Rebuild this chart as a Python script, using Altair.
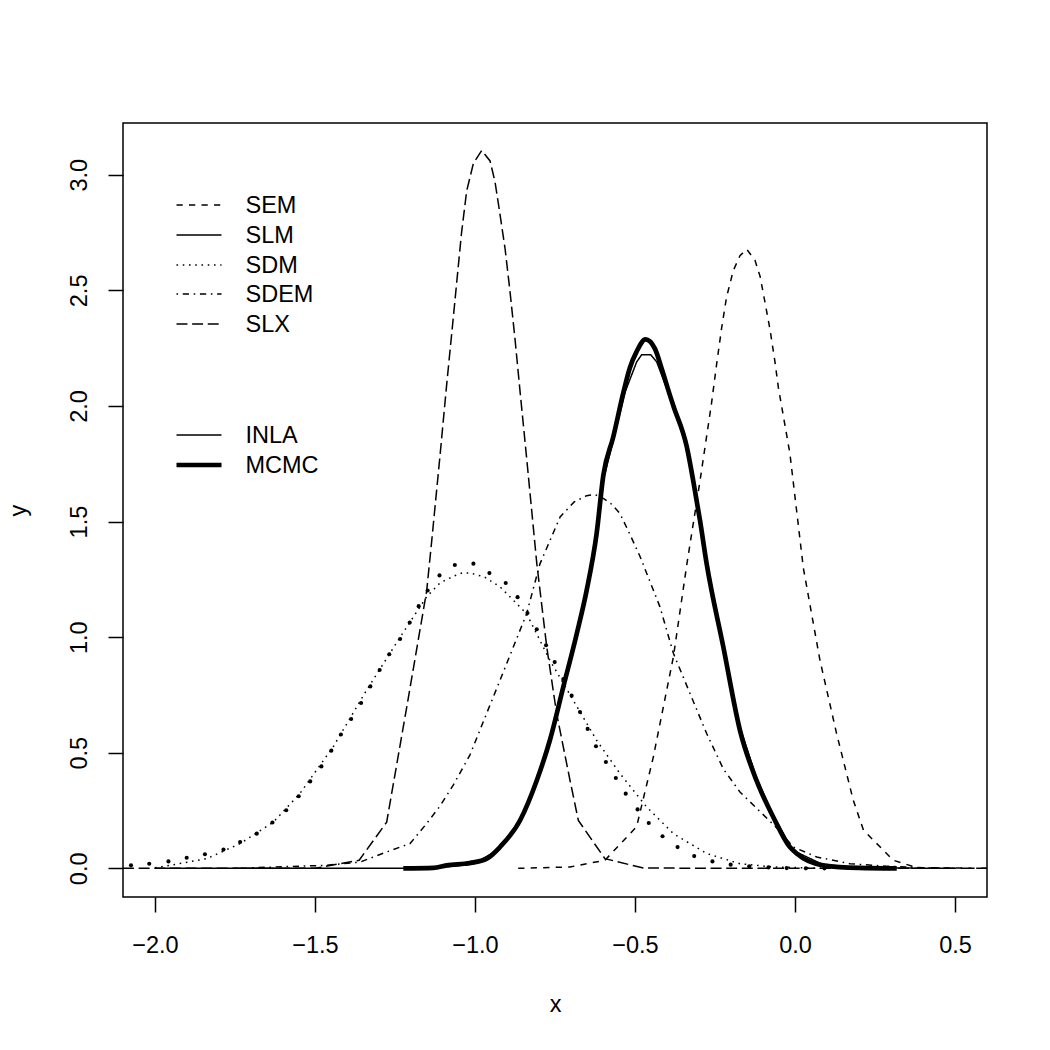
import altair as alt
import pandas as pd

# Posterior marginals of the spatial lag parameter, INLA (thin) vs MCMC (thick / dots)
sem_x = [-0.865, -0.703, -0.594, -0.495, -0.443, -0.38, -0.338, -0.297, -0.261, -0.245,
         -0.229, -0.214, -0.193, -0.172, -0.151, -0.125, -0.109, -0.094, -0.078, -0.0625,
         -0.052, -0.016, 0.026, 0.078, 0.130, 0.182, 0.214, 0.307, 0.38, 0.6]
sem_y = [0.0, 0.006, 0.035, 0.18, 0.48, 0.915, 1.315, 1.675, 2.01, 2.18,
         2.34, 2.47, 2.585, 2.65, 2.678, 2.63, 2.56, 2.45, 2.33, 2.19,
         2.08, 1.795, 1.30, 0.90, 0.583, 0.295, 0.165, 0.035, 0.003, 0.0]

slm_x = [-2.0, -1.2, -1.109, -1.005, -0.922, -0.859, -0.807, -0.766, -0.724, -0.682,
         -0.651, -0.620, -0.599, -0.568, -0.531, -0.495, -0.479, -0.451, -0.432, -0.380,
         -0.338, -0.297, -0.276, -0.224, -0.172, -0.120, -0.068, -0.016, 0.005, 0.088,
         0.2, 0.5]
slm_y = [0.0, 0.0, 0.004, 0.018, 0.085, 0.20, 0.37, 0.545, 0.776, 1.01,
         1.20, 1.45, 1.68, 1.85, 2.06, 2.19, 2.222, 2.222, 2.19, 2.0,
         1.82, 1.51, 1.33, 0.97, 0.61, 0.39, 0.23, 0.098, 0.07, 0.016,
         0.002, 0.0]

sdm_x = [-2.0, -1.953, -1.838, -1.734, -1.63, -1.547, -1.443, -1.339, -1.234, -1.151,
         -1.109, -1.068, -1.04, -1.016, -0.97, -0.922, -0.839, -0.766, -0.693, -0.62,
         -0.547, -0.464, -0.38, -0.276, -0.172, -0.068, 0.1]
sdm_y = [0.003, 0.013, 0.042, 0.107, 0.2, 0.324, 0.526, 0.77, 1.0, 1.175,
         1.235, 1.263, 1.278, 1.278, 1.26, 1.218, 1.102, 0.90, 0.727, 0.554,
         0.41, 0.266, 0.15, 0.064, 0.02, 0.006, 0.0]

sdem_x = [-1.75, -1.467, -1.359, -1.276, -1.203, -1.151, -1.109, -1.068, -1.016, -0.922,
          -0.839, -0.797, -0.734, -0.69, -0.651, -0.625, -0.599, -0.573, -0.547, -0.516,
          -0.484, -0.422, -0.38, -0.328, -0.276, -0.224, -0.172, -0.109, -0.057, -0.005,
          0.068, 0.172, 0.286, 0.45]
sdem_y = [0.0, 0.013, 0.027, 0.071, 0.107, 0.194, 0.27, 0.36, 0.49, 0.813,
          1.10, 1.317, 1.52, 1.585, 1.612, 1.617, 1.60, 1.575, 1.535, 1.445,
          1.348, 1.131, 0.93, 0.756, 0.583, 0.43, 0.33, 0.245, 0.175, 0.092,
          0.049, 0.02, 0.009, 0.0]

slx_x = [-2.1, -1.5, -1.362, -1.276, -1.213, -1.151, -1.135, -1.109, -1.088, -1.068,
         -1.042, -1.026, -1.005, -0.979, -0.953, -0.9375, -0.922, -0.906, -0.891, -0.875,
         -0.859, -0.839, -0.807, -0.776, -0.745, -0.703, -0.677, -0.594, -0.474, 0.6]
slx_y = [0.0, 0.0, 0.035, 0.20, 0.70, 1.20, 1.42, 1.79, 2.10, 2.38,
         2.75, 2.93, 3.05, 3.105, 3.06, 2.97, 2.83, 2.68, 2.50, 2.29,
         2.06, 1.78, 1.32, 0.96, 0.67, 0.38, 0.207, 0.042, 0.001, 0.0]

mcmc_slm_x = [-1.224, -1.13, -1.089, -1.016, -0.963, -0.922, -0.859, -0.807, -0.766, -0.724,
              -0.682, -0.651, -0.620, -0.599, -0.568, -0.536, -0.516, -0.495, -0.467, -0.4375,
              -0.417, -0.391, -0.380, -0.338, -0.318, -0.297, -0.276, -0.224, -0.172, -0.120,
              -0.068, -0.016, 0.005, 0.088, 0.20, 0.318]
mcmc_slm_y = [0.0, 0.002, 0.013, 0.023, 0.042, 0.092, 0.208, 0.38, 0.554, 0.785,
              1.015, 1.203, 1.447, 1.70, 1.866, 2.06, 2.165, 2.235, 2.288, 2.247,
              2.163, 2.047, 2.0, 1.822, 1.676, 1.506, 1.317, 0.958, 0.597, 0.379,
              0.222, 0.092, 0.064, 0.013, 0.002, 0.0]

mcmc_sdm_x = [-2.075, -2.018, -1.958, -1.901, -1.844, -1.786, -1.734, -1.682, -1.633, -1.59,
              -1.551, -1.515, -1.48, -1.449, -1.419, -1.387, -1.356, -1.327, -1.298, -1.268,
              -1.234, -1.204, -1.176, -1.148, -1.111, -1.063, -1.005, -0.955, -0.904, -0.867,
              -0.836, -0.807, -0.778, -0.751, -0.724, -0.698, -0.672, -0.648, -0.622, -0.591,
              -0.560, -0.529, -0.492, -0.457, -0.414, -0.367, -0.315, -0.258, -0.201, -0.143,
              -0.083, -0.026, 0.034, 0.092]
mcmc_sdm_y = [0.013, 0.020, 0.030, 0.046, 0.061, 0.081, 0.114, 0.150, 0.198, 0.251,
              0.312, 0.376, 0.441, 0.509, 0.579, 0.646, 0.715, 0.787, 0.858, 0.926,
              0.992, 1.063, 1.134, 1.202, 1.267, 1.312, 1.318, 1.277, 1.234, 1.173,
              1.104, 1.034, 0.965, 0.892, 0.819, 0.747, 0.676, 0.603, 0.528, 0.460,
              0.391, 0.323, 0.255, 0.196, 0.139, 0.092, 0.053, 0.030, 0.016, 0.009,
              0.004, 0.001, 0.0, 0.0]

legend_models = ["SEM", "SLM", "SDM", "SDEM", "SLX"]
legend_methods = ["INLA", "MCMC"]

FONT = "Liberation Sans"
FS = 23.5
U = 1.5625  # one R line-width unit in pixels

dash = {
    "SEM": [4 * U, 4 * U],
    "SLM": [1, 0],
    "SDM": [1 * U, 3 * U],
    "SDEM": [1 * U, 3 * U, 4 * U, 3 * U],
    "SLX": [7 * U, 3 * U],
}

series = {
    "SEM": (sem_x, sem_y),
    "SLM": (slm_x, slm_y),
    "SDM": (sdm_x, sdm_y),
    "SDEM": (sdem_x, sdem_y),
    "SLX": (slx_x, slx_y),
    "MCMC_SLM": (mcmc_slm_x, mcmc_slm_y),
    "MCMC_SDM": (mcmc_sdm_x, mcmc_sdm_y),
}

rows = []
for name, (xs, ys) in series.items():
    for xv, yv in zip(xs, ys):
        rows.append({"series": name, "x": xv, "y": yv})
df = pd.DataFrame(rows)

x_enc = alt.X(
    "x:Q",
    title="x",
    scale=alt.Scale(domain=[-2.1, 0.6], nice=False, zero=False),
    axis=alt.Axis(
        values=[-2.0, -1.5, -1.0, -0.5, 0.0, 0.5],
        format=".1f",
        grid=False,
        domain=False,
        tickColor="black",
        tickWidth=1.5,
        tickSize=15,
        labelFont=FONT,
        labelFontSize=FS,
        labelColor="black",
        labelBaseline="alphabetic",
        labelPadding=40,
        labelFlush=False,
        labelOverlap=False,
        titleFont=FONT,
        titleFontSize=FS,
        titleFontWeight="normal",
        titleColor="black",
        titleBaseline="alphabetic",
        titleX=432,
        titleY=114,
    ),
)
y_enc = alt.Y(
    "y:Q",
    title="y",
    scale=alt.Scale(domain=[-0.124, 3.224], nice=False, zero=False),
    axis=alt.Axis(
        values=[0.0, 0.5, 1.0, 1.5, 2.0, 2.5, 3.0],
        format=".1f",
        grid=False,
        domain=False,
        tickColor="black",
        tickWidth=1.5,
        tickSize=15,
        labelFont=FONT,
        labelFontSize=FS,
        labelColor="black",
        labelAngle=270,
        labelAlign="center",
        labelBaseline="alphabetic",
        labelPadding=21.5,
        labelFlush=False,
        labelOverlap=False,
        titleFont=FONT,
        titleFontSize=FS,
        titleFontWeight="normal",
        titleColor="black",
        titleAngle=270,
        titleAlign="center",
        titleBaseline="alphabetic",
        titleX=-98,
        titleY=387,
    ),
)

base = alt.Chart(df)

layers = []
for name in legend_models:
    layers.append(
        base.transform_filter(alt.datum.series == name)
        .mark_line(color="black", strokeWidth=1.5, strokeDash=dash[name], clip=True)
        .encode(x=x_enc, y=y_enc)
    )

layers.append(
    base.transform_filter(alt.datum.series == "MCMC_SLM")
    .mark_line(color="black", strokeWidth=4.7, interpolate="monotone",
               strokeJoin="round", clip=True)
    .encode(x=x_enc, y=y_enc)
)
layers.append(
    base.transform_filter(alt.datum.series == "MCMC_SDM")
    .mark_circle(color="black", size=17, opacity=1, clip=True)
    .encode(x=x_enc, y=y_enc)
)

# Legend block in the upper-left corner of the panel
key = pd.DataFrame({"k": [0]})
rule_x0, rule_x1, text_x = 53.5, 98.5, 122.5
row_y = {"SEM": 82, "SLM": 112, "SDM": 142, "SDEM": 171, "SLX": 201,
         "INLA": 312, "MCMC": 342}
for name in legend_models:
    layers.append(
        alt.Chart(key).mark_rule(color="black", strokeWidth=1.5, strokeDash=dash[name])
        .encode(x=alt.value(rule_x0), x2=alt.value(rule_x1), y=alt.value(row_y[name]))
    )
for name, width in zip(legend_methods, [1.5, 4.7]):
    layers.append(
        alt.Chart(key).mark_rule(color="black", strokeWidth=width)
        .encode(x=alt.value(rule_x0), x2=alt.value(rule_x1), y=alt.value(row_y[name]))
    )
for name in legend_models + legend_methods:
    layers.append(
        alt.Chart(key).mark_text(align="left", baseline="alphabetic", font=FONT,
                                 fontSize=FS, color="black")
        .encode(x=alt.value(text_x), y=alt.value(row_y[name] + 8.4), text=alt.value(name))
    )

chart = (
    alt.layer(*layers)
    .properties(
        width=864,
        height=774,
        autosize=alt.AutoSizeParams(type="none"),
        padding={"left": 123, "top": 123, "right": 63, "bottom": 153},
        background="white",
    )
    .configure_view(stroke="black", strokeWidth=1.5)
)

chart.save("out.html", embed_options={"renderer": "svg", "actions": False})
